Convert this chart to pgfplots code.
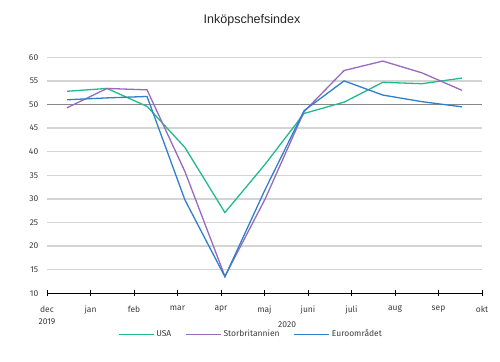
\documentclass[border=0pt]{standalone}
\usepackage{pgfplots}
\pgfplotsset{compat=1.18}
\usepackage{fontspec}
\setmainfont{Fira Sans}
\newfontfamily\titlefont{Liberation Sans}
\definecolor{cusa}{RGB}{32,186,140}
\definecolor{cuk}{RGB}{152,106,190}
\definecolor{ceu}{RGB}{47,128,204}
\definecolor{cgrid}{RGB}{212,212,212}
\definecolor{cfifty}{RGB}{135,135,135}
\definecolor{ctxt}{RGB}{60,60,60}
\begin{document}
\begin{tikzpicture}[x=1pt,y=1pt]
\useasboundingbox (0,0) rectangle (500,361);
\node[font=\titlefont\fontsize{12.5}{14}\selectfont, text=black!85] at (252,341) {Inköpschefsindex};
\begin{axis}[
  at={(47pt,67.7pt)}, anchor=south west,
  scale only axis, width=435pt, height=236pt,
  xmin=0, xmax=10, ymin=10, ymax=60,
  axis y line=none, axis x line*=bottom,
  axis line style={black, line width=0.9pt},
  xtick={0,...,10},
  xticklabels={{dec\\2019},jan,feb,mar,apr,maj,juni,juli,aug,sep,okt},
  xticklabel style={align=center, font=\fontsize{8.5}{12}\selectfont, text=ctxt, yshift=-6pt},
  major tick length=6pt,
  x tick style={black, line width=0.8pt},
  xtick align=center,
  ytick=\empty,
  clip=false,
  legend style={at={(0.469,-0.173)}, anchor=center, draw=none, fill=none,
    font=\fontsize{8.5}{10}\selectfont, text=ctxt, legend columns=3,
    /tikz/every even column/.append style={column sep=12pt}},
  legend image code/.code={\draw[#1, line width=1.2pt] (0pt,0pt) -- (35pt,0pt);},
]
% grid lines and y labels
\foreach \v in {15,20,25,30,35,40,45,55,60} {
  \edef\temp{\noexpand\draw[cgrid, line width=1.4pt] (axis cs:0,\v) -- (axis cs:10,\v);
  \noexpand\node[anchor=east, font=\noexpand\fontsize{8.5}{10}\noexpand\selectfont, text=ctxt] at (axis cs:-0.12,\v) {\v};}
  \temp
}
\node[anchor=east, font=\fontsize{8.5}{10}\selectfont, text=ctxt] at (axis cs:-0.12,50) {50};
\node[anchor=east, font=\fontsize{8.5}{10}\selectfont, text=ctxt] at (axis cs:-0.12,10) {10};
\draw[cfifty, line width=1.8pt] (axis cs:0,50) -- (axis cs:10,50);
\node[font=\fontsize{8.5}{10}\selectfont, text=ctxt] at (axis cs:5.52,10) [yshift=-31pt] {2020};
\addplot[cusa, line width=1.3pt] coordinates {
(0.46,52.8) (1.38,53.4) (2.30,49.6) (3.17,40.9) (4.09,27.1) (5.01,37.3) (5.91,48.1) (6.83,50.5) (7.72,54.7) (8.62,54.4) (9.54,55.6)};
\addlegendentry{USA}
\addplot[cuk, line width=1.3pt] coordinates {
(0.46,49.3) (1.38,53.4) (2.30,53.1) (3.17,35.8) (4.09,13.6) (5.01,29.9) (5.91,48.5) (6.83,57.2) (7.72,59.2) (8.62,56.7) (9.54,53.0)};
\addlegendentry{Storbritannien}
\addplot[ceu, line width=1.3pt] coordinates {
(0.46,51.0) (1.38,51.4) (2.30,51.7) (3.17,29.8) (4.09,13.5) (5.01,31.9) (5.91,48.7) (6.83,55.0) (7.72,52.0) (8.62,50.6) (9.54,49.5)};
\addlegendentry{Euroområdet}
\end{axis}
\end{tikzpicture}
\end{document}
